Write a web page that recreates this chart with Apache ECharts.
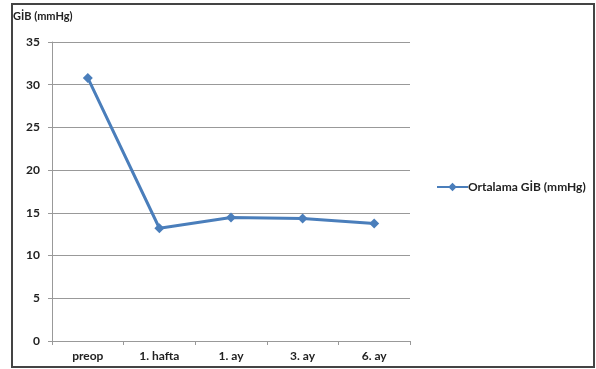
<!DOCTYPE html>
<html>
<head>
<meta charset="utf-8">
<script src="https://cdn.jsdelivr.net/npm/echarts@6/dist/echarts.min.js"></script>
<style>
html,body{margin:0;padding:0;background:#fff;}
#chart{width:596px;height:369px;}
</style>
</head>
<body>
<div id="chart"></div>
<script>
// Mean intraocular pressure over follow-up
const categories = ['preop', '1. hafta', '1. ay', '3. ay', '6. ay'];
const meanIOP = [30.8, 13.2, 14.45, 14.35, 13.75];
const seriesName = 'Ortalama GİB (mmHg)';
const yAxisTitle = 'GİB (mmHg)';

const chart = echarts.init(document.getElementById('chart'));
const font = 'Lato, "Open Sans", sans-serif';
const blue = '#4a7ebb';

chart.setOption({
  backgroundColor: '#fff',
  animation: false,
  graphic: [
    { type: 'rect', shape: { x: 12, y: 4, width: 582, height: 363 },
      style: { fill: 'none', stroke: '#444', lineWidth: 2 }, z: 100 },
    { type: 'text', left: 13, top: 11,
      style: { text: yAxisTitle, font: 'bold 11px ' + font, fill: '#222' } }
  ],
  legend: {
    data: [{
      name: seriesName,
      // horizontal line with a diamond marker in the middle
      icon: 'path://M0,3.6 L29,3.6 L29,5.4 L0,5.4 Z M14.5,0.5 L18.5,4.5 L14.5,8.5 L10.5,4.5 Z'
    }],
    left: 432, top: 176,
    itemWidth: 31, itemHeight: 9, itemGap: 0,
    textStyle: { fontFamily: font, fontSize: 12, fontWeight: 'bold', color: '#222', padding: [0, 0, 0, -5] }
  },
  grid: { left: 52, right: 186, top: 42, bottom: 28 },
  xAxis: {
    type: 'category',
    data: categories,
    boundaryGap: true,
    axisLine: { lineStyle: { color: '#999', width: 1 } },
    axisTick: { show: true, length: 4, lineStyle: { color: '#999' } },
    axisLabel: { fontFamily: font, fontSize: 12, fontWeight: 'bold', color: '#222', margin: 9 }
  },
  yAxis: {
    type: 'value',
    min: 0, max: 35, interval: 5,
    axisLine: { show: true, lineStyle: { color: '#999', width: 1 } },
    axisTick: { show: true, length: 4, inside: false, lineStyle: { color: '#999' } },
    axisLabel: { fontFamily: font, fontSize: 12, fontWeight: 'bold', color: '#222', margin: 12 },
    splitLine: { lineStyle: { color: '#999', width: 1 } }
  },
  series: [{
    name: seriesName,
    type: 'line',
    data: meanIOP,
    symbol: 'diamond',
    symbolSize: 10,
    itemStyle: { color: blue },
    lineStyle: { color: blue, width: 3 }
  }]
});
</script>
</body>
</html>
